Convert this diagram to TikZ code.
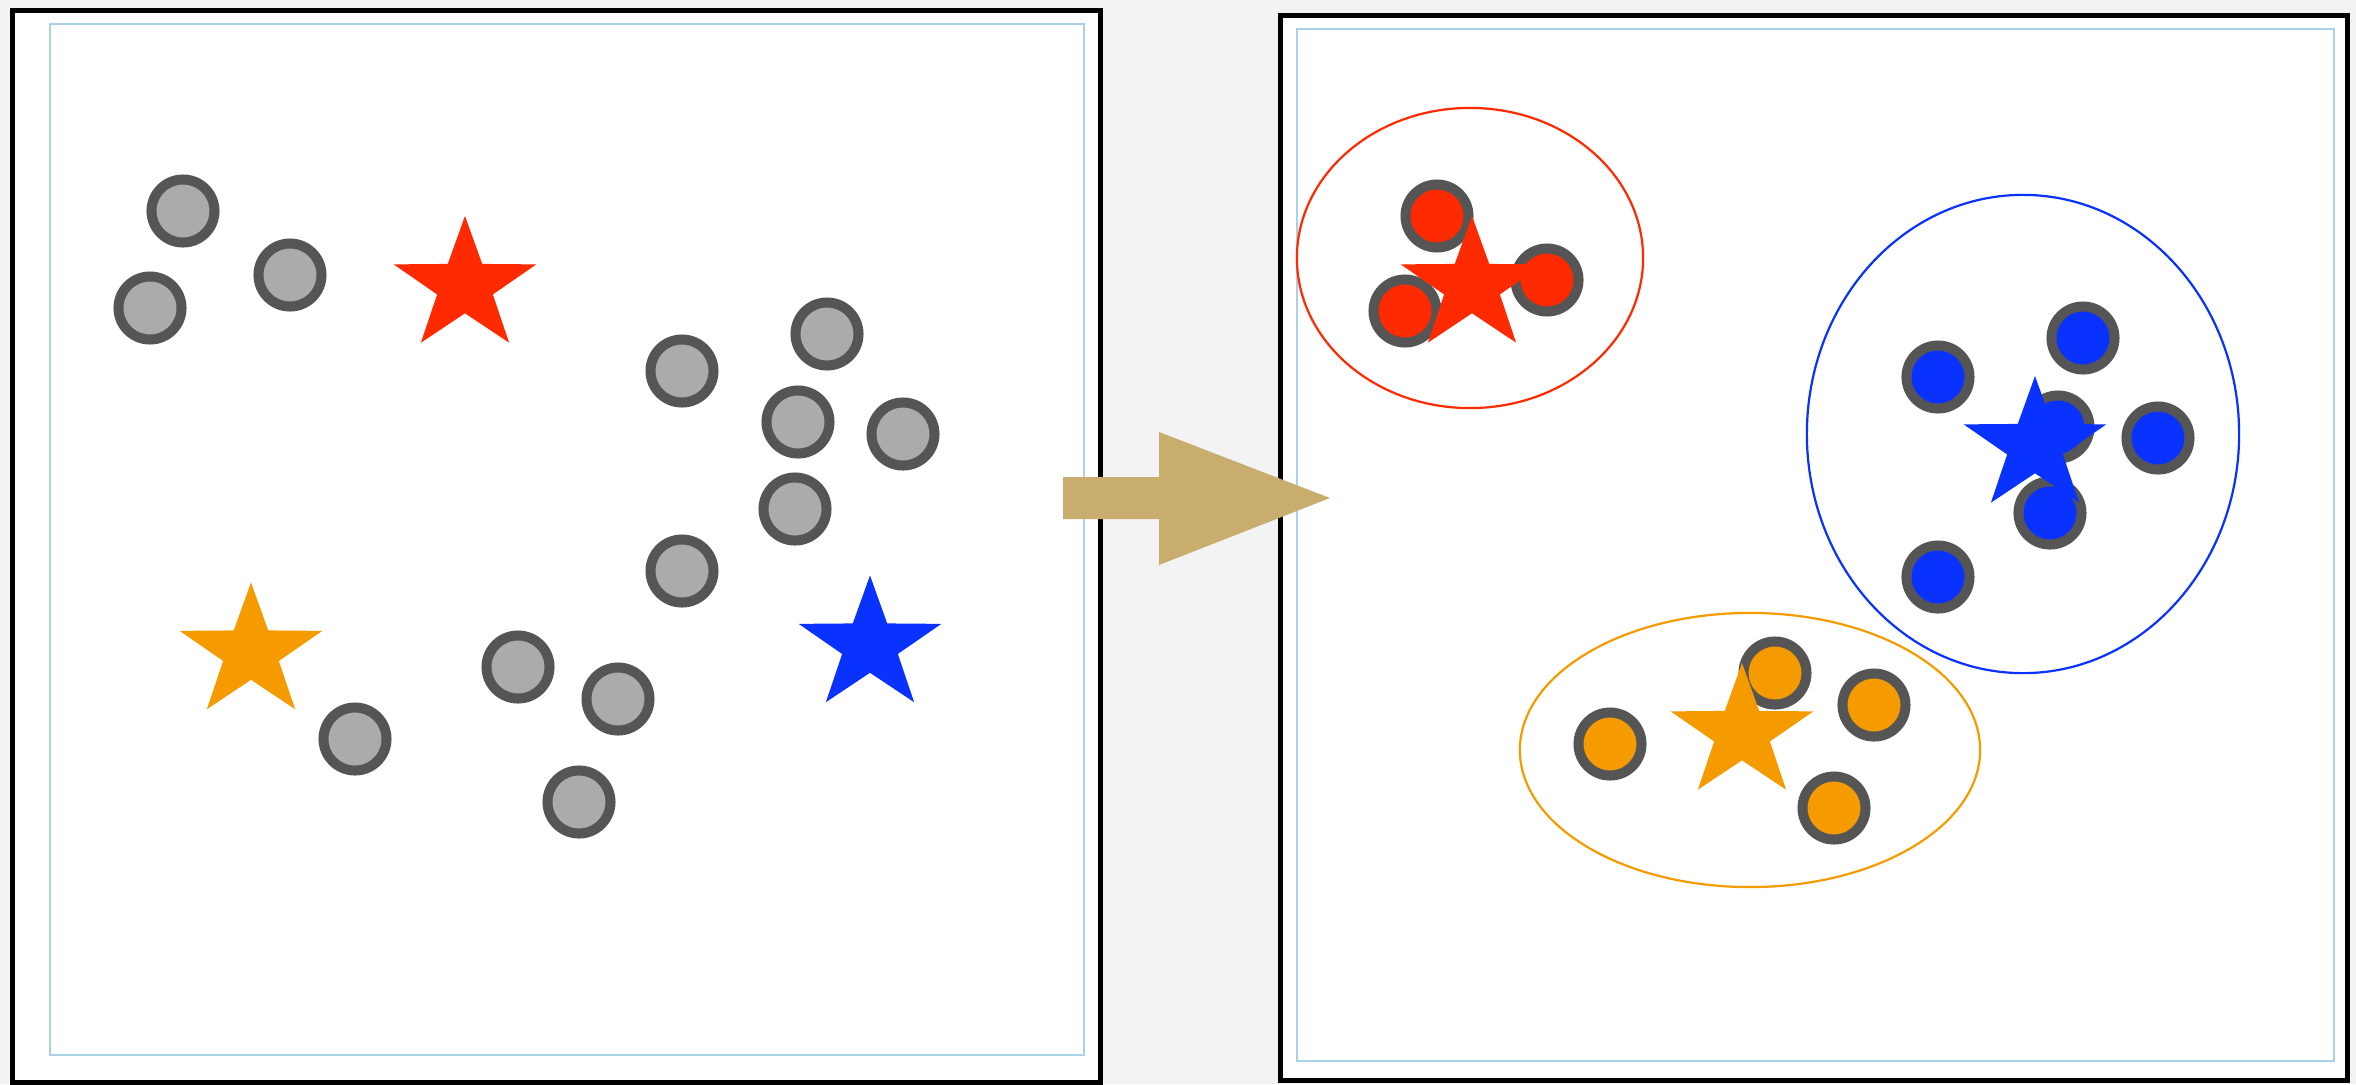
\documentclass[tikz,border=0pt]{standalone}
\usetikzlibrary{calc}
\definecolor{bgpaper}{HTML}{F3F3F3}
\definecolor{ringgray}{HTML}{555555}
\definecolor{dotgray}{HTML}{ABABAB}
\definecolor{kred}{HTML}{FF2A00}
\definecolor{korange}{HTML}{F59B00}
\definecolor{kblue}{HTML}{0A32FF}
\definecolor{frameblue}{HTML}{A8D2E8}
\definecolor{arrowtan}{HTML}{C9AD6F}
\tikzset{
  dot/.style={circle, draw=ringgray, line width=0.1cm, minimum size=0.63cm, inner sep=0pt, fill=#1},
  panel/.style={draw=black, line width=0.05cm, fill=white},
  innerframe/.style={draw=frameblue, line width=0.025cm},
  cluster/.style={draw=#1, line width=0.022cm},
}
\newcommand\kstar[3]{%
  \fill[#3, shift={(#1,#2)}] (-90:75 and 70) -- (-54:29.3 and 27.3) -- (-18:75 and 70) -- (18:29.3 and 27.3) -- (54:75 and 70) -- (90:29.3 and 27.3) -- (126:75 and 70) -- (162:29.3 and 27.3) -- (198:75 and 70) -- (234:29.3 and 27.3) -- cycle;}
\begin{document}
\begin{tikzpicture}[x=0.01cm,y=-0.01cm]
\useasboundingbox (0,0) rectangle (2356,1084);
\fill[bgpaper] (0,0) rectangle (2356,1084);
% panels
\draw[panel] (12.5,10.5) rectangle (1100.5,1082);
\draw[innerframe] (50,24) rectangle (1084,1055);
\draw[panel] (1280,15) rectangle (2347,1080);
\draw[innerframe] (1297,29) rectangle (2334,1061);
% left panel points
\node[dot=dotgray] (l1) at (183,211) {};
\node[dot=dotgray] (l2) at (290,275) {};
\node[dot=dotgray] (l3) at (150,308) {};
\node[dot=dotgray] (l4) at (682,371) {};
\node[dot=dotgray] (l5) at (827,334) {};
\node[dot=dotgray] (l6) at (798,422) {};
\node[dot=dotgray] (l7) at (903,434) {};
\node[dot=dotgray] (l8) at (795,509) {};
\node[dot=dotgray] (l9) at (682,571) {};
\node[dot=dotgray] (l10) at (518,667) {};
\node[dot=dotgray] (l11) at (618,699) {};
\node[dot=dotgray] (l12) at (355,739) {};
\node[dot=dotgray] (l13) at (579,802) {};
\kstar{465}{286}{kred}
\kstar{251}{652.5}{korange}
\kstar{870}{645.5}{kblue}
% right panel clusters
\draw[cluster=kred] (1470,258) ellipse [x radius=1.73cm, y radius=1.50cm];
\draw[cluster=kblue] (2023,434) ellipse [x radius=2.16cm, y radius=2.39cm];
\draw[cluster=korange] (1750,750) ellipse [x radius=2.30cm, y radius=1.37cm];
\node[dot=kred] (r1) at (1437,216) {};
\node[dot=kred] (r2) at (1405,311) {};
\node[dot=kred] (r3) at (1547,280) {};
\node[dot=kblue] (b1) at (1938,377) {};
\node[dot=kblue] (b2) at (2083,338) {};
\node[dot=kblue] (b3) at (2058,427) {};
\node[dot=kblue] (b4) at (2158,438) {};
\node[dot=kblue] (b5) at (2050,513) {};
\node[dot=kblue] (b6) at (1938,577) {};
\node[dot=korange] (o1) at (1610,744) {};
\node[dot=korange] (o2) at (1775,673) {};
\node[dot=korange] (o3) at (1874,705) {};
\node[dot=korange] (o4) at (1834,808) {};
\kstar{1472}{286}{kred}
\kstar{2035}{446}{kblue}
\kstar{1742}{733}{korange}
% block arrow
\fill[arrowtan] (1063,477) -- (1159,477) -- (1159,432) -- (1330,498) -- (1159,565) -- (1159,519) -- (1063,519) -- cycle;
\end{tikzpicture}
\end{document}
